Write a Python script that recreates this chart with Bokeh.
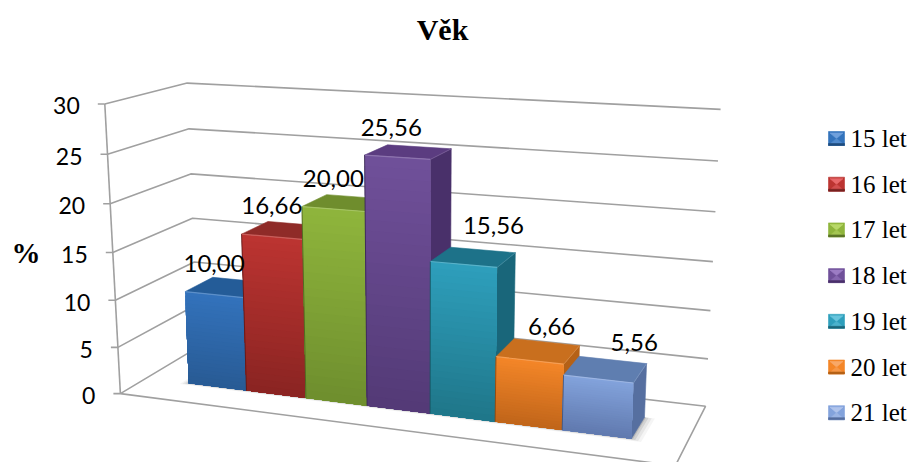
import numpy as np
from bokeh.plotting import figure
from bokeh.core.properties import value
from bokeh.embed import file_html
from bokeh.resources import INLINE

# ---- data ----
title_text = "Věk"
axis_title = "%"
categories = ["15 let", "16 let", "17 let", "18 let", "19 let", "20 let", "21 let"]
values = [10.00, 16.66, 20.00, 25.56, 15.56, 6.66, 5.56]
y_ticks = [0, 5, 10, 15, 20, 25, 30]
Y_MAX = 30.0

# ---- style: (front top, front bottom, top face, side face, swatch light) ----
front_top = ["#3373BC", "#BC3431", "#8FB53C", "#70509A", "#2E9FBC", "#F48628", "#83A3DC"]
front_bot = ["#285A94", "#8A2422", "#6E8E2E", "#533A76", "#1F7689", "#C0651A", "#6079AE"]
top_face = ["#245C98", "#8F2B28", "#6F8D2D", "#5B3C80", "#1D7289", "#C96F1E", "#5F7EB0"]
side_face = ["#1E4C7E", "#782220", "#5C7626", "#49306A", "#19667A", "#B56116", "#566FA0"]
swatch_light = ["#6FA0DC", "#E8686A", "#B8D868", "#9C7CC4", "#68C4DC", "#F8A868", "#B0C4EC"]
GRID = "#A0A0A0"
SERIF = value("Liberation Serif, Times New Roman, serif")

# ---- 3D projection fitted on the chart box: (u, v/Ymax, d) -> page pixel ----
box_world = [(0, 0, 0), (0, 1, 0), (0, 0, 1), (0, 1, 1), (1, 0, 1), (1, 1, 1), (1, 0, 0)]
box_page = [(120, 392), (104, 104), (197, 348), (187, 82), (705, 405), (720, 109), (675, 466)]
rows = []
for (a, b, c), (x, y) in zip(box_world, box_page):
    X = [a, b, c, 1]
    rows.append(X + [0, 0, 0, 0] + [-x * t for t in X])
    rows.append([0, 0, 0, 0] + X + [-y * t for t in X])
PM = np.linalg.svd(np.array(rows, float))[2][-1].reshape(3, 4)


def proj(u, v, d):
    q = PM @ np.array([u, v / Y_MAX, d, 1.0])
    return q[0] / q[2], q[1] / q[2]


FH = PM[:, [0, 2, 3]]
FHI = np.linalg.inv(FH)


def floor_uv(x, y):
    q = FHI @ np.array([x, y, 1.0])
    return q[0] / q[2], q[1] / q[2]


ua, da = floor_uv(188, 383)
ub, db = floor_uv(631, 438)
uc, dc = floor_uv(645, 417)
U0, U1, D0, D1 = ua, ub, (da + db) / 2, dc

# ---- figure in page pixels ----
p = figure(width=911, height=462, x_range=(0, 911), y_range=(462, 0),
           x_axis_location=None, y_axis_location=None, toolbar_location=None,
           output_backend="svg", min_border=0, outline_line_color=None)
p.grid.visible = False
p.background_fill_color = "white"
p.border_fill_color = "white"


def seg(pts, color=GRID, width=1.6):
    p.line([a[0] for a in pts], [a[1] for a in pts], line_color=color, line_width=width)


def poly(pts, color, alpha=1.0, edge=True):
    p.patch([a[0] for a in pts], [a[1] for a in pts], fill_color=color, fill_alpha=alpha,
            line_color=color if edge else None, line_alpha=alpha, line_width=0.6)


def mix(c1, c2, t):
    a = [int(c1[i:i + 2], 16) for i in (1, 3, 5)]
    b = [int(c2[i:i + 2], 16) for i in (1, 3, 5)]
    return "#%02x%02x%02x" % tuple(int(round(x + (y - x) * t)) for x, y in zip(a, b))


# walls and floor
for t in y_ticks:
    seg([proj(0, t, 0), proj(0, t, 1), proj(1, t, 1)])
    ax, ay = proj(0, t, 0)
    seg([(ax - 7, ay), (ax, ay)])
seg([proj(0, 0, 0), proj(0, Y_MAX, 0)])
seg([proj(0, 0, 0), proj(1, 0, 0), proj(1, 0, 1)])

tx, ty, tl = [], [], []
for t in y_ticks:
    ax, ay = proj(0, t, 0)
    tx.append(ax - 25)
    ty.append(ay + 2)
    tl.append(str(t))
p.text(tx, ty, text=tl, text_font=value("Lato"), text_font_size="23px", text_color="#000000",
       text_align="right", text_baseline="middle")

# floor shadow
for k, a in zip((1.0, 0.7, 0.4, 0.15), (0.05, 0.08, 0.12, 0.18)):
    poly([proj(U0 - 0.014 * k, 0, D0 - 0.03 * k), proj(U1 + 0.018 * k, 0, D0 - 0.03 * k),
          proj(U1 + 0.018 * k, 0, D1), proj(U0 - 0.014 * k, 0, D1)], "#404040", a, edge=False)

# bars
n = len(values)
STRIPS = 24
for i, val in enumerate(values):
    a = U0 + (U1 - U0) * i / n
    b = U0 + (U1 - U0) * (i + 1) / n
    poly([proj(b, 0, D0), proj(b, val, D0), proj(b, val, D1), proj(b, 0, D1)], side_face[i])
    poly([proj(a, val, D0), proj(b, val, D0), proj(b, val, D1), proj(a, val, D1)], top_face[i])
    for s in range(STRIPS):
        v1 = val * (1 - s / STRIPS)
        poly([proj(a, v1, D0), proj(b, v1, D0), proj(b, 0, D0), proj(a, 0, D0)],
             mix(front_top[i], front_bot[i], (s + 0.5) / STRIPS), edge=False)
    seg([proj(a, val, D0), proj(b, val, D0)], mix(front_top[i], "#ffffff", 0.2), 1.2)
    seg([proj(b, val, D0), proj(b, val, D1)], mix(top_face[i], "#ffffff", 0.15), 1.0)
    if i > 0:
        seg([proj(a, 0, D0), proj(a, val, D0)], mix(front_bot[i], "#000000", 0.3), 0.9)

# data labels
label_nudge_x = [0, 0, 0, -6, 30, 22, 36]
label_nudge_y = [-31, -31, -30, -30, -39, -34, -37]
lx, ly, ll = [], [], []
for i, val in enumerate(values):
    u = U0 + (U1 - U0) * (i + 0.5) / n
    x, y = proj(u, val, D0)
    lx.append(x + label_nudge_x[i])
    ly.append(y + label_nudge_y[i])
    ll.append(f"{val:.2f}".replace(".", ","))
p.text(lx, ly, text=ll, text_font=value("Lato"), text_font_size="24px", text_color="#000000",
       text_align="center", text_baseline="middle")

# titles
p.text([442], [29], text=[title_text], text_font=SERIF, text_font_size="30px",
       text_font_style="bold", text_color="#000000", text_align="center", text_baseline="middle")
p.text([25.5], [252], text=[axis_title], text_font=SERIF, text_font_size="29px",
       text_font_style="bold", text_color="#000000", text_align="center", text_baseline="middle")

# legend
LEG_X, LEG_Y, LEG_STEP, S, H = 828, 138, 45.7, 16, 14
for i, name in enumerate(categories):
    y0 = LEG_Y + i * LEG_STEP - H / 2
    x0, x1, y1 = LEG_X, LEG_X + S, y0 + H
    cx, cy = (x0 + x1) / 2, (y0 + y1) / 2
    poly([(x0, y0), (x1, y0), (x1, y1), (x0, y1)], front_top[i])
    poly([(x0 + 1.5, y0 + 1.5), (x1 - 1.5, y0 + 1.5), (cx, cy)], swatch_light[i])
    poly([(x0 + 1.5, y1 - 1.5), (x1 - 1.5, y1 - 1.5), (cx, cy)], mix(front_top[i], swatch_light[i], 0.5))
    poly([(x0, y1 - 2), (x1, y1 - 2), (x1, y1), (x0, y1)], side_face[i])
p.text([850] * n, [LEG_Y + i * LEG_STEP for i in range(n)], text=categories,
       text_font=SERIF, text_font_size="25px", text_color="#000000",
       text_align="left", text_baseline="middle")

open("out.html", "w").write(file_html(p, INLINE))
